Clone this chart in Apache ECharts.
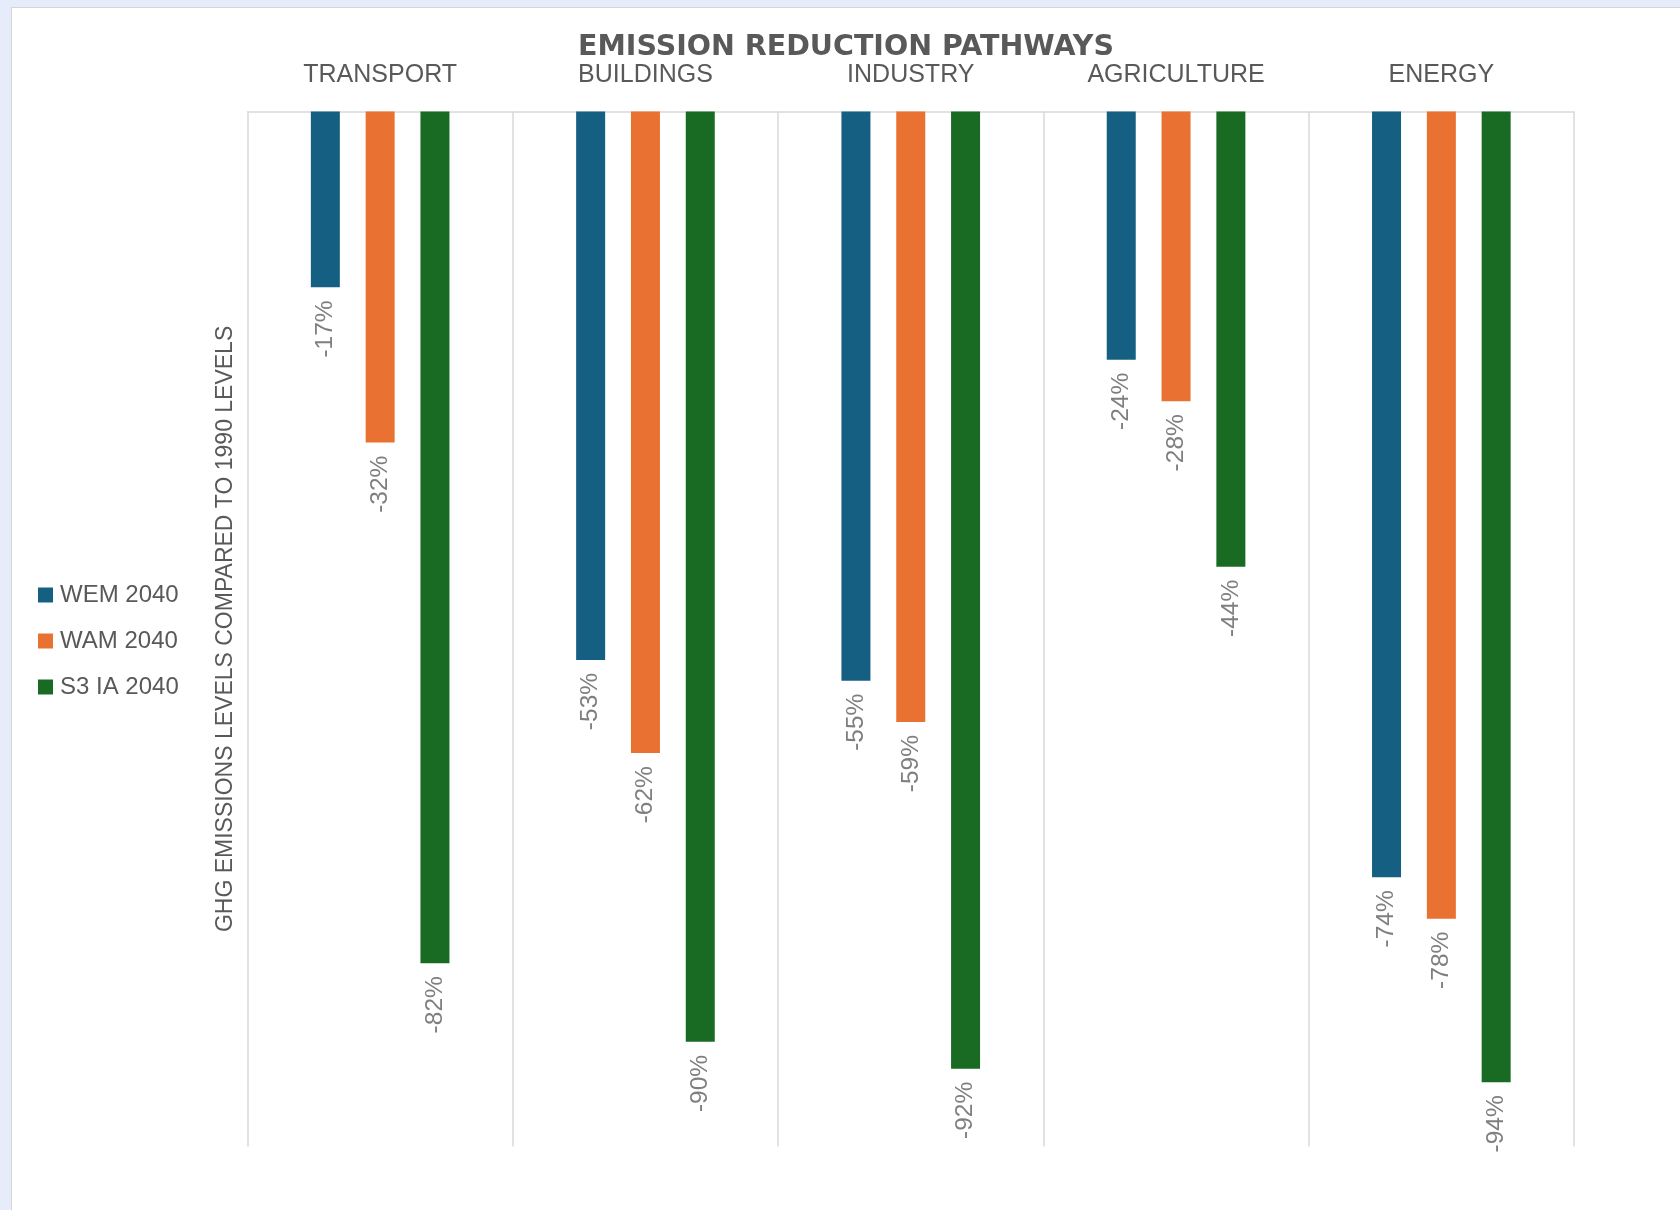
<!DOCTYPE html>
<html>
<head>
<meta charset="utf-8">
<script src="https://cdn.jsdelivr.net/npm/echarts@6/dist/echarts.min.js"></script>
<style>
  html, body { margin: 0; padding: 0; background: #e6ecfa; width: 1680px; height: 1210px; overflow: hidden; }
  #chart { position: absolute; left: 11px; top: 7px; width: 1668px; height: 1202px; background: #ffffff; border-left: 1px solid #d4d6da; border-top: 1px solid #d4d6da; }
</style>
</head>
<body>
<div id="chart"></div>
<script>
const categories = ['TRANSPORT', 'BUILDINGS', 'INDUSTRY', 'AGRICULTURE', 'ENERGY'];
const wem2040 = [-17, -53, -55, -24, -74];
const wam2040 = [-32, -62, -59, -28, -78];
const s3ia2040 = [-82.3, -89.9, -92.5, -44, -93.8];
const yMin = -100;
const yMax = 0;

const chart = echarts.init(document.getElementById('chart'), null, { renderer: 'canvas' });

const labelOpt = {
  show: true,
  position: 'bottom',
  distance: 13,
  rotate: 90,
  align: 'right',
  verticalAlign: 'middle',
  color: '#7f7f7f',
  fontSize: 24.5,
  fontFamily: 'Liberation Sans, Arial, sans-serif',
  formatter: p => Math.round(p.value) + '%'
};

function mk(name, data, color) {
  return {
    name, type: 'bar', data,
    barWidth: 29,
    barGap: '89%',
    itemStyle: { color },
    label: labelOpt
  };
}

chart.setOption({
  animation: false,
  title: {
    text: 'EMISSION REDUCTION PATHWAYS',
    left: 'center',
    top: 20,
    textStyle: { color: '#595959', fontSize: 28.5, fontWeight: 'bold', fontFamily: 'DejaVu Sans, Liberation Sans, Arial, sans-serif' }
  },
  legend: {
    orient: 'vertical',
    left: 21,
    top: 570,
    itemWidth: 15,
    itemHeight: 15,
    itemGap: 22,
    icon: 'rect',
    textStyle: { color: '#595959', fontSize: 24, fontFamily: 'Liberation Sans, Arial, sans-serif', padding: [0, 0, 0, 2] },
    data: ['WEM 2040', 'WAM 2040', 'S3 IA 2040']
  },
  grid: { left: 235.5, top: 103.4, width: 1326.5, height: 1035, containLabel: false },
  xAxis: {
    type: 'category',
    position: 'top',
    data: categories,
    axisLine: { show: true, lineStyle: { color: '#d9d9d9', width: 1.5 } },
    axisTick: { show: false },
    splitLine: { show: true, lineStyle: { color: '#d9d9d9', width: 1.5 } },
    axisLabel: { margin: 24, color: '#595959', fontSize: 25, fontFamily: 'Liberation Sans, Arial, sans-serif' }
  },
  yAxis: {
    type: 'value',
    min: yMin,
    max: yMax,
    interval: 20,
    name: 'GHG EMISSIONS LEVELS COMPARED TO 1990 LEVELS',
    nameLocation: 'middle',
    nameGap: 10,
    nameTextStyle: { color: '#595959', fontSize: 23, fontFamily: 'Liberation Sans, Arial, sans-serif' },
    axisLine: { show: false },
    axisTick: { show: false },
    axisLabel: { show: false },
    splitLine: { show: false }
  },
  series: [
    mk('WEM 2040', wem2040, '#156082'),
    mk('WAM 2040', wam2040, '#E97132'),
    mk('S3 IA 2040', s3ia2040, '#196B24')
  ]
});
</script>
</body>
</html>
